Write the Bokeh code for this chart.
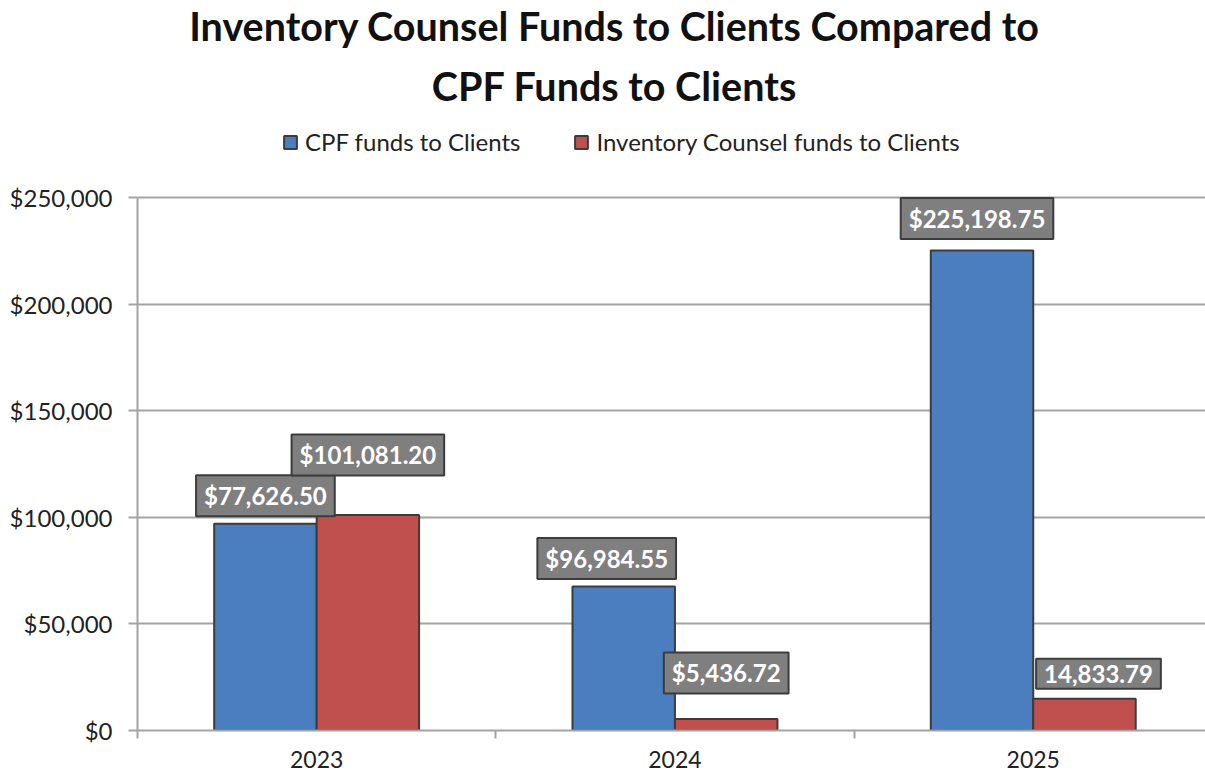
from bokeh.plotting import figure
from bokeh.models import (Range1d, LinearAxis, FixedTicker, NumeralTickFormatter,
                          Label, Legend, LegendItem, Grid)
from bokeh.embed import file_html
from bokeh.resources import INLINE

# ---------------- data ----------------
years = ["2023", "2024", "2025"]
series_names = ["CPF funds to Clients", "Inventory Counsel funds to Clients"]
cpf_values = [96985, 67550, 225199]
ic_values = [101081, 5437, 14834]
cpf_labels = ["$77,626.50", "$96,984.55", "$225,198.75"]
ic_labels = ["$101,081.20", "$5,436.72", "14,833.79"]
y_ticks = [0, 50000, 100000, 150000, 200000, 250000]
title_lines = ["Inventory Counsel Funds to Clients Compared to", "CPF Funds to Clients"]

# ---------------- style / layout ----------------
FONT = "Lato"
BLUE = "#4a7ebf"
RED = "#c0504d"
EDGE = "#3c3c3c"
GRID = "#a3a3a3"
W, H = 1205, 776
LEFT = 137            # frame left (px)
ZERO_Y = 730          # pixel row of y = 0 (frame bottom)
PX_PER_50K = 106.6
CAT_PX = 358.3        # pixels per category
BAR_W = 0.286
y_top_val = ZERO_Y / PX_PER_50K * 50000   # frame reaches the canvas top

p = figure(width=W, height=H, output_backend="svg", toolbar_location=None,
           x_range=Range1d(0, (W - LEFT) / CAT_PX), y_range=Range1d(0, y_top_val),
           x_axis_type=None, y_axis_type=None,
           min_border_left=LEFT, min_border_top=0, min_border_right=0,
           min_border_bottom=H - ZERO_Y)
p.outline_line_color = None
p.background_fill_color = "white"
p.border_fill_color = "white"

# pixel -> data helpers (for annotation placement only)
def px2x(px):
    return (px - LEFT) / CAT_PX

def px2y(py):
    return (ZERO_Y - py) / PX_PER_50K * 50000

# axes
yaxis = LinearAxis(ticker=FixedTicker(ticks=y_ticks, minor_ticks=[]),
                   formatter=NumeralTickFormatter(format="$0,0"),
                   bounds=(y_ticks[0], y_ticks[-1]))
yaxis.axis_line_color = GRID
yaxis.axis_line_width = 2
yaxis.major_tick_line_color = GRID
yaxis.major_tick_line_width = 2
yaxis.major_tick_out = 9
yaxis.major_tick_in = 0
yaxis.major_label_standoff = 16
yaxis.major_label_text_font = FONT
yaxis.major_label_text_font_size = "24px"
yaxis.major_label_text_color = "#222222"
p.add_layout(yaxis, "left")

centers = [i + 0.5 for i in range(len(years))]
xaxis = LinearAxis(ticker=FixedTicker(ticks=centers, minor_ticks=list(range(len(years) + 1))),
                   major_label_overrides={c: y for c, y in zip(centers, years)})
xaxis.axis_line_color = GRID
xaxis.axis_line_width = 2
xaxis.major_tick_out = 0
xaxis.major_tick_in = 0
xaxis.minor_tick_out = 8
xaxis.minor_tick_in = 0
xaxis.minor_tick_line_color = GRID
xaxis.minor_tick_line_width = 2
xaxis.major_label_standoff = 12
xaxis.major_label_text_font = FONT
xaxis.major_label_text_font_size = "23px"
xaxis.major_label_text_color = "#222222"
p.add_layout(xaxis, "below")

# gridlines
p.add_layout(Grid(dimension=1, ticker=FixedTicker(ticks=y_ticks[1:]),
                  grid_line_color=GRID, grid_line_width=2))

# bars
x_cpf = [c - BAR_W / 2 for c in centers]
x_ic = [c + BAR_W / 2 for c in centers]
r1 = p.vbar(x=x_cpf, top=cpf_values, width=BAR_W, fill_color=BLUE,
            line_color=EDGE, line_width=2)
r2 = p.vbar(x=x_ic, top=ic_values, width=BAR_W, fill_color=RED,
            line_color=EDGE, line_width=2)

# data labels (offsets in px: manually placed as in the reference)
cpf_off = [(0, 28), (-17, 28), (-5, 32)]
ic_off = [(0, 60), (0, 46), (14, 25)]
for xs, vals, labs, offs in [(x_cpf, cpf_values, cpf_labels, cpf_off),
                             (x_ic, ic_values, ic_labels, ic_off)]:
    for x, v, t, (dx, dy) in zip(xs, vals, labs, offs):
        p.add_layout(Label(x=x, y=v, x_offset=dx, y_offset=dy, text=t,
                           text_align="center", text_baseline="middle",
                           text_font=FONT, text_font_style="bold",
                           text_font_size="24px", text_color="white",
                           background_fill_color="#7f7f7f",
                           border_line_color=EDGE, border_line_width=2,
                           padding=dict(left=8, right=8, top=6, bottom=6)))

# title
for line, base in zip(title_lines, [25, 85]):
    p.add_layout(Label(x=px2x(614), y=px2y(base), text=line, text_align="center",
                       text_baseline="alphabetic", text_font=FONT,
                       text_font_style="bold", text_font_size="39.5px",
                       text_color="#111111"))

# legend
legend = Legend(items=[LegendItem(label=series_names[0], renderers=[r1]),
                       LegendItem(label=series_names[1], renderers=[r2])],
                location=(282 - LEFT, ZERO_Y - 156),
                orientation="horizontal", glyph_width=16, glyph_height=16,
                label_standoff=7, spacing=53, padding=0, margin=0,
                label_height=26, label_text_font=FONT, label_text_font_size="24px",
                label_text_color="#222222", border_line_color=None,
                background_fill_color=None)
p.add_layout(legend, "center")

open("out.html", "w").write(file_html(p, INLINE))
